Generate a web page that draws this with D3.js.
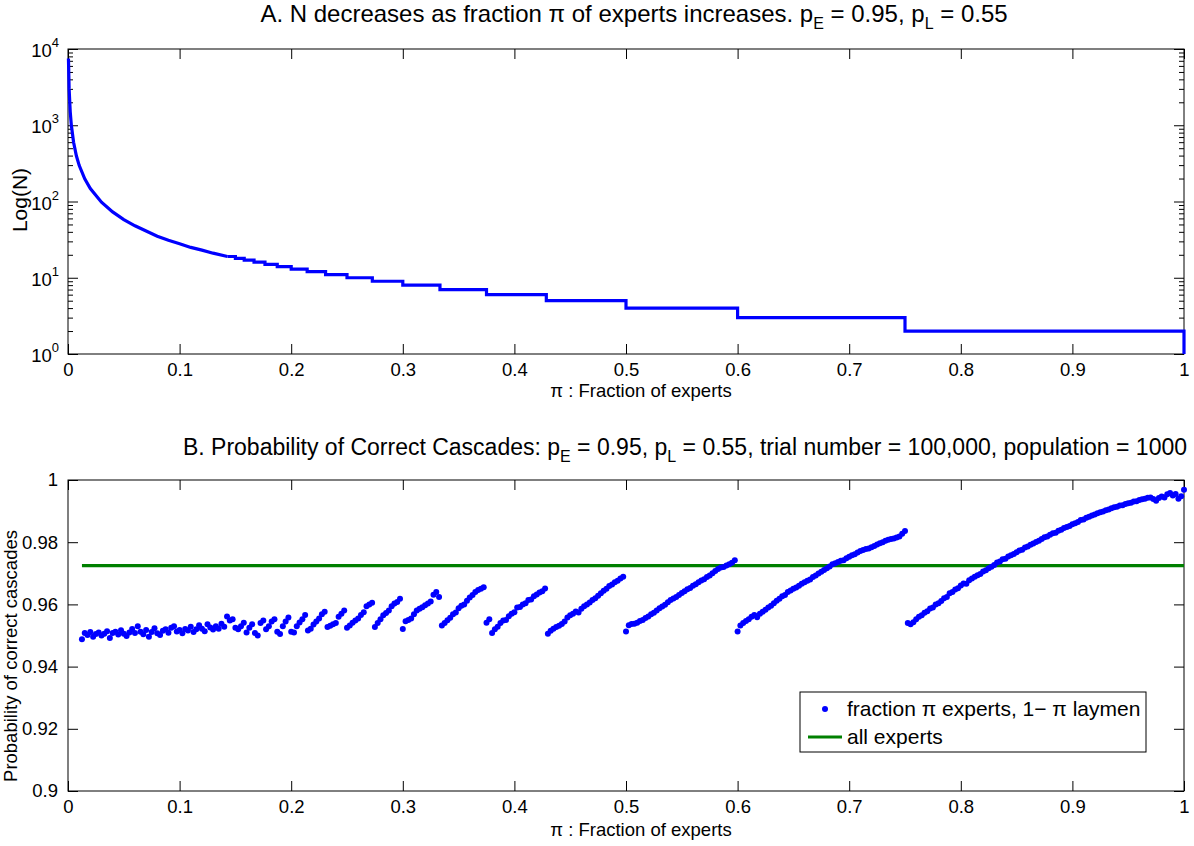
<!DOCTYPE html>
<html lang="en">
<head>
<meta charset="UTF-8">
<title>Experts and cascades</title>
<script src="https://cdn.jsdelivr.net/npm/d3@7"></script>
<style>
    body { margin: 0; background: #fff; }
    svg { display: block; font-family: "Liberation Sans", Arial, Helvetica, sans-serif; }
</style>
</head>
<body>
<svg width="1194" height="846"></svg>
<script>
    // ---- panel A : N against fraction of experts ----
    // smooth part close to zero
    var curvePi = [0.0004, 0.001, 0.002, 0.003, 0.005, 0.0075, 0.01, 0.015, 0.02, 0.03, 0.04, 0.05,
        0.06, 0.07, 0.08, 0.09, 0.1, 0.11, 0.12, 0.13, 0.1429];
    var curveN = [7500, 2998, 1498, 998, 598, 398, 298, 198, 148, 98, 73, 58,
        48, 41, 35, 31, 28, 25, 23, 21, 19];
    // visible steps: pi where each level starts, and the level
    var stepPi = [0.1429, 0.15, 0.1579, 0.1667, 0.1765, 0.1875, 0.2, 0.2143, 0.2308, 0.25, 0.2727,
        0.3, 0.3333, 0.375, 0.4286, 0.5, 0.6, 0.75, 1];
    var stepN = [19, 18, 17, 16, 15, 14, 13, 12, 11, 10, 9, 8, 7, 6, 5, 4, 3, 2, 1];

    // ---- panel B : probability of correct cascades ----
    var piStep = 0.0025;
    var segStart = [0.0125, 0.145, 0.15, 0.16, 0.1675, 0.1775, 0.1875, 0.2, 0.215, 0.2325, 0.25,
        0.275, 0.3, 0.335, 0.375, 0.43, 0.5, 0.6, 0.7525];
    var segProb = [
        [0.9488, 0.9508, 0.9502, 0.9511, 0.9496, 0.9505, 0.9510, 0.9500, 0.9506, 0.9514,
            0.9492, 0.9508, 0.9512, 0.9503, 0.9517, 0.9506, 0.9498, 0.9510, 0.9521, 0.9508,
            0.9530, 0.9512, 0.9504, 0.9518, 0.9496, 0.9511, 0.9523, 0.9507, 0.9502, 0.9515,
            0.9520, 0.9509, 0.9525, 0.9530, 0.9513, 0.9518, 0.9507, 0.9521, 0.9516, 0.9528,
            0.9511, 0.9520, 0.9533, 0.9522, 0.9514, 0.9536, 0.9526, 0.9519, 0.9530, 0.9522,
            0.9538, 0.9528, 0.9561],
        [0.9548, 0.9552],
        [0.9525, 0.9520, 0.9530, 0.9541],
        [0.9510, 0.9525, 0.9536],
        [0.9508, 0.9500, 0.9540, 0.9548],
        [0.9520, 0.9530, 0.9545, 0.9552],
        [0.9512, 0.9505, 0.9530, 0.9545, 0.9558],
        [0.9512, 0.9510, 0.9530, 0.9542, 0.9552, 0.9566],
        [0.9516, 0.9522, 0.9535, 0.9545, 0.9555, 0.9568, 0.9576],
        [0.9527, 0.9531, 0.9536, 0.9540, 0.9560, 0.9570, 0.9580],
        [0.9525, 0.9532, 0.9541, 0.9548, 0.9555, 0.9566, 0.9575, 0.9594, 0.9600, 0.9605],
        [0.9527, 0.9540, 0.9552, 0.9565, 0.9572, 0.9580, 0.9594, 0.9603, 0.9608, 0.9618],
        [0.9521, 0.9546, 0.9550, 0.9555, 0.9568, 0.9580, 0.9586, 0.9591, 0.9597, 0.9603,
            0.9609, 0.9631, 0.9640, 0.9624],
        [0.9532, 0.9540, 0.9549, 0.9557, 0.9568, 0.9574, 0.9588, 0.9596, 0.9600, 0.9612,
            0.9622, 0.9630, 0.9640, 0.9646, 0.9650, 0.9655],
        [0.9541, 0.9552, 0.9508, 0.9520, 0.9528, 0.9540, 0.9548, 0.9550, 0.9562, 0.9570,
            0.9575, 0.9590, 0.9592, 0.9600, 0.9604, 0.9614, 0.9616, 0.9626, 0.9632, 0.9638,
            0.9642, 0.9651],
        [0.9506, 0.9515, 0.9522, 0.9527, 0.9531, 0.9537, 0.9545, 0.9558, 0.9565, 0.9570,
            0.9577, 0.9574, 0.9586, 0.9594, 0.9600, 0.9606, 0.9614, 0.9620, 0.9628, 0.9636,
            0.9644, 0.9650, 0.9659, 0.9664, 0.9671, 0.9676, 0.9683, 0.9689],
        [0.9513, 0.9533, 0.9537, 0.9538, 0.9541, 0.9547, 0.9550, 0.9556, 0.9561, 0.9568,
            0.9573, 0.9580, 0.9588, 0.9593, 0.9599, 0.9607, 0.9614, 0.9619, 0.9624, 0.9630,
            0.9637, 0.9642, 0.9649, 0.9653, 0.9660, 0.9665, 0.9671, 0.9677, 0.9681, 0.9688,
            0.9693, 0.9700, 0.9707, 0.9714, 0.9719, 0.9720, 0.9725, 0.9729, 0.9734, 0.9742],
        [0.9513, 0.9532, 0.9540, 0.9547, 0.9552, 0.9560, 0.9566, 0.9559, 0.9570, 0.9576,
            0.9583, 0.9590, 0.9596, 0.9604, 0.9612, 0.9618, 0.9626, 0.9630, 0.9640, 0.9645,
            0.9650, 0.9654, 0.9660, 0.9666, 0.9671, 0.9676, 0.9680, 0.9688, 0.9693, 0.9699,
            0.9705, 0.9711, 0.9716, 0.9722, 0.9729, 0.9732, 0.9736, 0.9740, 0.9742, 0.9748,
            0.9753, 0.9758, 0.9761, 0.9767, 0.9772, 0.9775, 0.9778, 0.9780, 0.9784, 0.9788,
            0.9793, 0.9797, 0.9800, 0.9805, 0.9808, 0.9810, 0.9812, 0.9815, 0.9818, 0.9827,
            0.9836],
        [0.9540, 0.9536, 0.9543, 0.9552, 0.9560, 0.9565, 0.9573, 0.9578, 0.9587, 0.9590,
            0.9600, 0.9604, 0.9611, 0.9620, 0.9624, 0.9636, 0.9640, 0.9648, 0.9652, 0.9661,
            0.9667, 0.9666, 0.9678, 0.9683, 0.9689, 0.9694, 0.9698, 0.9706, 0.9710, 0.9716,
            0.9721, 0.9727, 0.9735, 0.9738, 0.9745, 0.9747, 0.9754, 0.9758, 0.9762, 0.9768,
            0.9773, 0.9776, 0.9783, 0.9786, 0.9792, 0.9796, 0.9801, 0.9805, 0.9810, 0.9816,
            0.9818, 0.9824, 0.9829, 0.9830, 0.9837, 0.9840, 0.9846, 0.9849, 0.9852, 0.9858,
            0.9861, 0.9865, 0.9871, 0.9873, 0.9879, 0.9882, 0.9886, 0.9889, 0.9893, 0.9896,
            0.9899, 0.9903, 0.9905, 0.9909, 0.9912, 0.9914, 0.9918, 0.9919, 0.9923, 0.9925,
            0.9927, 0.9931, 0.9932, 0.9936, 0.9938, 0.9940, 0.9943, 0.9944, 0.9939, 0.9933,
            0.9942, 0.9947, 0.9944, 0.9954, 0.9958, 0.9950, 0.9955, 0.9940, 0.9948, 0.9969]
    ];
    var allExperts = 0.9725;
    var allExpertsPi = [0.0125, 1];

    // ticks
    var xTicks = [0, 0.1, 0.2, 0.3, 0.4, 0.5, 0.6, 0.7, 0.8, 0.9, 1];
    var xTickLabels = ['0', '0.1', '0.2', '0.3', '0.4', '0.5', '0.6', '0.7', '0.8', '0.9', '1'];
    var yTicksA = [1, 10, 100, 1000, 10000];
    var yExpA = ['0', '1', '2', '3', '4'];
    var yTicksB = [0.9, 0.92, 0.94, 0.96, 0.98, 1];
    var yTickLabelsB = ['0.9', '0.92', '0.94', '0.96', '0.98', '1'];

    var svg = d3.select('svg');
    var fs = 18.5;     // tick + axis labels
    var fsLegend = 21;

    var x = d3.scaleLinear().domain([0, 1]).range([68, 1184]);
    var yA = d3.scaleLog().domain([1, 10000]).range([354, 49]);
    var yB = d3.scaleLinear().domain([0.9, 1]).range([791, 480]);

    // minor ticks for log axis
    var minorA = [];
    yTicksA.slice(0, 4).forEach(function (p) {
        for (var m = 2; m <= 9; m++) minorA.push(p * m);
    });

    function xAxes(g, yTop, yBot, labels) {
        var bot = g.append('g').attr('transform', 'translate(0,' + yBot + ')')
            .call(d3.axisBottom(x).tickValues(xTicks).tickSizeInner(-10).tickSizeOuter(0)
                .tickPadding(9).tickFormat(function (d, i) { return labels[i]; }));
        var top = g.append('g').attr('transform', 'translate(0,' + yTop + ')')
            .call(d3.axisTop(x).tickValues(xTicks).tickSizeInner(-10).tickSizeOuter(0).tickFormat(''));
        [bot, top].forEach(function (a) {
            a.select('.domain').remove();
            a.selectAll('text').attr('font-size', fs).attr('font-family', null).attr('fill', '#000');
            a.selectAll('line').attr('stroke', '#000');
        });
    }

    // ===== panel A =====
    var gA = svg.append('g');
    xAxes(gA, 49, 354, xTickLabels);

    [[d3.axisLeft, 68], [d3.axisRight, 1184]].forEach(function (s) {
        var a = gA.append('g').attr('transform', 'translate(' + s[1] + ',0)')
            .call(s[0](yA).tickValues(yTicksA).tickSizeInner(-10).tickSizeOuter(0).tickFormat(''));
        var b = gA.append('g').attr('transform', 'translate(' + s[1] + ',0)')
            .call(s[0](yA).tickValues(minorA).tickSizeInner(-5).tickSizeOuter(0).tickFormat(''));
        a.select('.domain').remove();
        b.select('.domain').remove();
        a.selectAll('line').attr('stroke', '#000');
        b.selectAll('line').attr('stroke', '#000');
    });

    var labA = gA.append('g').selectAll('text').data(yTicksA).enter().append('text')
        .attr('x', 59)
        .attr('y', function (d) { return yA(d) + 8; })
        .attr('text-anchor', 'end')
        .attr('font-size', fs);
    labA.append('tspan').text('10');
    labA.append('tspan').attr('font-size', 13).attr('dy', -10)
        .text(function (d, i) { return yExpA[i]; });

    gA.append('rect').attr('x', 68).attr('y', 49).attr('width', 1116).attr('height', 305)
        .attr('fill', 'none').attr('stroke', '#000');

    var smooth = curvePi.map(function (p, i) { return [p, curveN[i]]; });
    var steps = stepPi.map(function (p, i) { return [p, stepN[i]]; });

    gA.append('path').datum(smooth)
        .attr('d', d3.line().x(function (d) { return x(d[0]); }).y(function (d) { return yA(d[1]); }))
        .attr('fill', 'none').attr('stroke', '#0000ff').attr('stroke-width', 3.2);
    gA.append('path').datum(steps)
        .attr('d', d3.line().curve(d3.curveStepAfter)
            .x(function (d) { return x(d[0]); }).y(function (d) { return yA(d[1]); }))
        .attr('fill', 'none').attr('stroke', '#0000ff').attr('stroke-width', 3.2);

    gA.append('text').attr('x', 641).attr('y', 397).attr('text-anchor', 'middle')
        .attr('font-size', fs).text('\u03c0 : Fraction of experts');
    gA.append('text').attr('transform', 'translate(27,200) rotate(-90)')
        .attr('text-anchor', 'middle').attr('font-size', 21).text('Log(N)');

    function title(xMid, yPos, size, parts) {
        var t = svg.append('text').attr('x', xMid).attr('y', yPos)
            .attr('text-anchor', 'middle').attr('font-size', size);
        var sub = false;
        parts.forEach(function (p) {
            var isSub = p.charAt(0) === '_';
            var dy = isSub ? 7 : (sub ? -7 : 0);
            t.append('tspan').attr('dy', dy).attr('font-size', isSub ? 16 : null)
                .text(isSub ? p.slice(1) : p);
            sub = isSub;
        });
        return t;
    }
    title(634, 22, 24, ['A. N decreases as fraction \u03c0 of experts increases. p', '_E', ' = 0.95, p', '_L', ' = 0.55']);
    title(685, 455, 23, ['B. Probability of Correct Cascades: p', '_E', ' = 0.95, p', '_L',
        ' = 0.55, trial number = 100,000, population = 1000']);

    // ===== panel B =====
    var gB = svg.append('g');
    xAxes(gB, 480, 791, xTickLabels);

    [[d3.axisLeft, 68], [d3.axisRight, 1184]].forEach(function (s, k) {
        var a = gB.append('g').attr('transform', 'translate(' + s[1] + ',0)')
            .call(s[0](yB).tickValues(yTicksB).tickSizeInner(-10).tickSizeOuter(0)
                .tickPadding(8).tickFormat(function (d, i) { return k === 0 ? yTickLabelsB[i] : ''; }));
        a.select('.domain').remove();
        a.selectAll('line').attr('stroke', '#000');
        a.selectAll('text').attr('font-size', fs).attr('font-family', null).attr('fill', '#000')
            .attr('x', -10);
    });

    gB.append('rect').attr('x', 68).attr('y', 480).attr('width', 1116).attr('height', 311)
        .attr('fill', 'none').attr('stroke', '#000');

    gB.append('line')
        .attr('x1', x(allExpertsPi[0])).attr('x2', x(allExpertsPi[1]))
        .attr('y1', yB(allExperts)).attr('y2', yB(allExperts))
        .attr('stroke', '#008000').attr('stroke-width', 3.2);

    var pts = [];
    segProb.forEach(function (seg, s) {
        seg.forEach(function (v, j) { pts.push([segStart[s] + j * piStep, v]); });
    });
    gB.append('g').selectAll('circle').data(pts).enter().append('circle')
        .attr('cx', function (d) { return x(d[0]); })
        .attr('cy', function (d) { return yB(d[1]); })
        .attr('r', 3)
        .attr('fill', '#0000ff');

    gB.append('text').attr('x', 641).attr('y', 836).attr('text-anchor', 'middle')
        .attr('font-size', fs).text('\u03c0 : Fraction of experts');
    gB.append('text').attr('transform', 'translate(17,656) rotate(-90)')
        .attr('text-anchor', 'middle').attr('font-size', fs).text('Probability of correct cascades');

    // legend
    var lg = gB.append('g');
    lg.append('rect').attr('x', 800).attr('y', 692).attr('width', 346).attr('height', 60)
        .attr('fill', '#fff').attr('stroke', '#000');
    lg.append('circle').attr('cx', 825).attr('cy', 709).attr('r', 3).attr('fill', '#0000ff');
    lg.append('text').attr('x', 847).attr('y', 716).attr('font-size', fsLegend)
        .text('fraction \u03c0 experts, 1\u2212 \u03c0 laymen');
    lg.append('line').attr('x1', 808).attr('x2', 842).attr('y1', 737).attr('y2', 737)
        .attr('stroke', '#008000').attr('stroke-width', 3.2);
    lg.append('text').attr('x', 847).attr('y', 744).attr('font-size', fsLegend).text('all experts');
</script>
</body>
</html>
